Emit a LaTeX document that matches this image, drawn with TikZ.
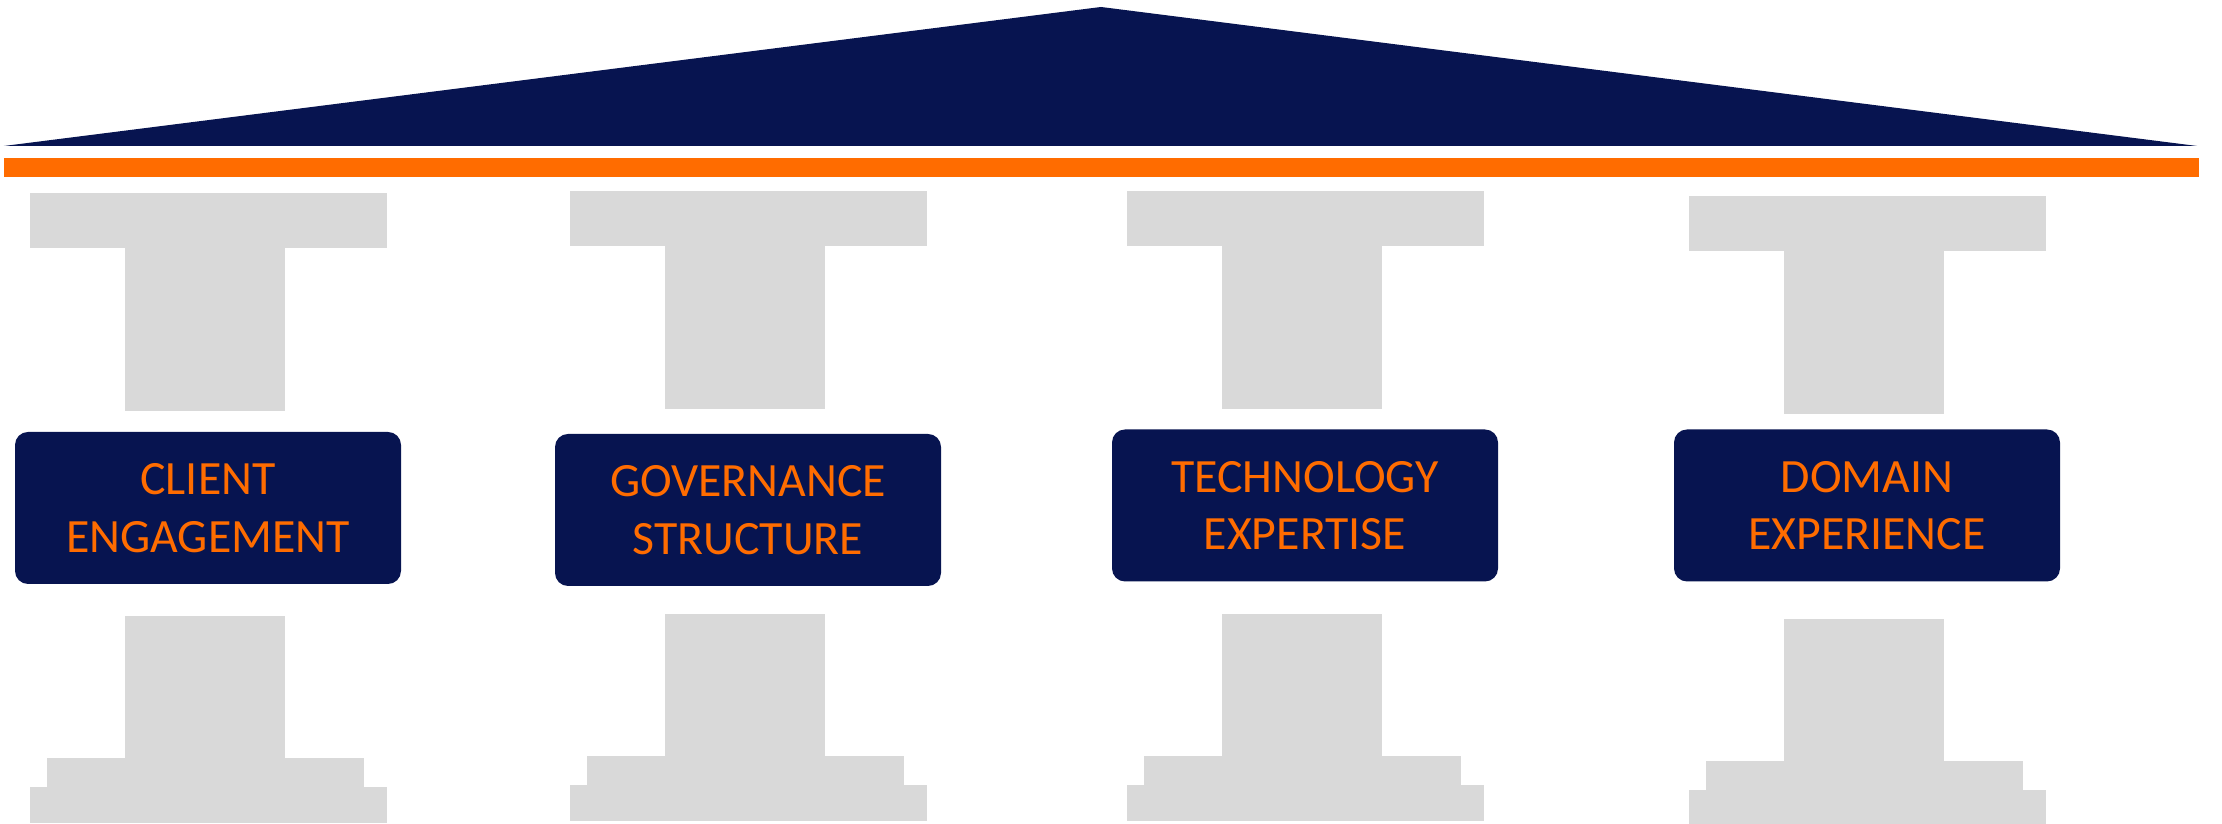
\documentclass[tikz,border=0pt]{standalone}
\usepackage{fontspec}
\usepackage{tikz}
\newfontfamily\platefont{Carlito}
\definecolor{roofblue}{RGB}{7,20,80}
\definecolor{stripeorange}{RGB}{255,108,0}
\definecolor{stonegray}{RGB}{217,217,217}
\tikzset{
  stone/.style={fill=stonegray},
  plate/.style={fill=roofblue, rounded corners=0.13cm, minimum width=3.86cm,
    minimum height=1.52cm, inner sep=0pt, align=center, text=stripeorange,
    font=\platefont\fontsize{13.6}{16.4}\selectfont}
}

\begin{document}
\begin{tikzpicture}
    \useasboundingbox (0,0) rectangle (22.22,8.24);
    % roof and beam
    \fill [roofblue] (0.04,6.78) -- (11.01,8.17) -- (21.97,6.78) -- cycle;
    \fill [stripeorange] (0.04,6.47) rectangle (21.99,6.66);
    % pillar 1
    \fill [stone] (0.30,6.31) rectangle (3.87,5.76);
    \fill [stone] (1.25,5.76) rectangle (2.85,4.13);
    \fill [stone] (1.25,2.08) rectangle (2.85,0.66);
    \fill [stone] (0.47,0.66) rectangle (3.64,0.37);
    \fill [stone] (0.30,0.37) rectangle (3.87,0.01);
    % pillar 2
    \fill [stone] (5.70,6.33) rectangle (9.27,5.78);
    \fill [stone] (6.65,5.78) rectangle (8.25,4.15);
    \fill [stone] (6.65,2.10) rectangle (8.25,0.68);
    \fill [stone] (5.87,0.68) rectangle (9.04,0.39);
    \fill [stone] (5.70,0.39) rectangle (9.27,0.03);
    % pillar 3
    \fill [stone] (11.27,6.33) rectangle (14.84,5.78);
    \fill [stone] (12.22,5.78) rectangle (13.82,4.15);
    \fill [stone] (12.22,2.10) rectangle (13.82,0.68);
    \fill [stone] (11.44,0.68) rectangle (14.61,0.39);
    \fill [stone] (11.27,0.39) rectangle (14.84,0.03);
    % pillar 4
    \fill [stone] (16.89,6.28) rectangle (20.46,5.73);
    \fill [stone] (17.84,5.73) rectangle (19.44,4.10);
    \fill [stone] (17.84,2.05) rectangle (19.44,0.63);
    \fill [stone] (17.06,0.63) rectangle (20.23,0.34);
    \fill [stone] (16.89,0.34) rectangle (20.46,0.00);
    % name plates
    \node (client) [plate] at (2.08,3.16) {CLIENT\\ENGAGEMENT};
    \node (governance) [plate] at (7.48,3.14) {GOVERNANCE\\STRUCTURE};
    \node (technology) [plate] at (13.05,3.185) {TECHNOLOGY\\EXPERTISE};
    \node (domain) [plate] at (18.67,3.185) {DOMAIN\\EXPERIENCE};
\end{tikzpicture}
\end{document}
